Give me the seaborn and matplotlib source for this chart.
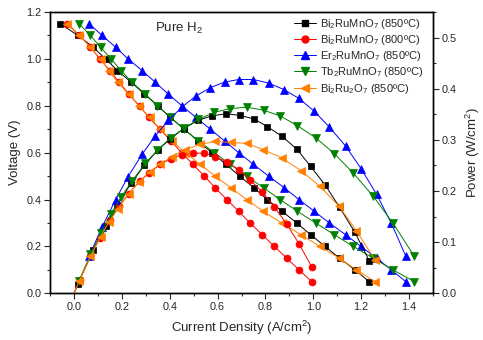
import matplotlib
matplotlib.use("Agg")
import matplotlib.pyplot as plt
from matplotlib.lines import Line2D
from matplotlib.ticker import MultipleLocator
import pandas as pd
import seaborn as sns

sns.set_style("ticks")
plt.rcParams["font.family"] = ["Liberation Sans", "DejaVu Sans"]
plt.rcParams["mathtext.fontset"] = "custom"
plt.rcParams["mathtext.rm"] = "Liberation Sans"
plt.rcParams["mathtext.default"] = "regular"

# Cell voltage levels (V) shared by every sample
voltage = [1.15, 1.10, 1.05, 1.00, 0.95, 0.90, 0.85, 0.80, 0.75, 0.70, 0.65, 0.60,
           0.55, 0.50, 0.45, 0.40, 0.35, 0.30, 0.25, 0.20, 0.15, 0.10, 0.05]

labels = ["Bi$_2$RuMnO$_7$ (850ºC)", "Bi$_2$RuMnO$_7$ (800ºC)", "Er$_2$RuMnO$_7$ (850ºC)",
          "Tb$_2$RuMnO$_7$ (850ºC)", "Bi$_2$Ru$_2$O$_7$ (850ºC)"]

# Current density (A/cm2) per sample
current_bi850 = [-0.058, 0.017, 0.08, 0.132, 0.182, 0.24, 0.294, 0.35, 0.403, 0.461, 0.518, 0.576,
                 0.635, 0.692, 0.752, 0.808, 0.869, 0.931, 0.989, 1.049, 1.11, 1.174, 1.233]
current_bi800 = [-0.028, 0.024, 0.069, 0.108, 0.15, 0.19, 0.229, 0.274, 0.313, 0.36, 0.405, 0.45,
                 0.497, 0.545, 0.59, 0.639, 0.688, 0.736, 0.787, 0.837, 0.889, 0.94, 0.993]
current_er850 = [0.0625, 0.118, 0.174, 0.226, 0.285, 0.34, 0.394, 0.451, 0.51, 0.57, 0.629, 0.688,
                 0.75, 0.813, 0.879, 0.94, 1.004, 1.067, 1.135, 1.199, 1.264, 1.326, 1.386]
current_tb850 = [0.021, 0.069, 0.111, 0.155, 0.197, 0.243, 0.298, 0.349, 0.404, 0.46, 0.52, 0.587,
                 0.653, 0.722, 0.792, 0.861, 0.933, 1.01, 1.088, 1.167, 1.25, 1.333, 1.421]
current_bru850 = [-0.03, 0.022, 0.069, 0.111, 0.146, 0.183, 0.228, 0.271, 0.317, 0.361, 0.41, 0.465,
                  0.528, 0.59, 0.656, 0.722, 0.79, 0.868, 0.948, 1.028, 1.108, 1.18, 1.257]

# Power density (W/cm2) per sample
power_bi850 = [-0.067, 0.019, 0.084, 0.132, 0.173, 0.216, 0.25, 0.28, 0.302, 0.323, 0.338, 0.347,
               0.351, 0.348, 0.341, 0.326, 0.307, 0.282, 0.248, 0.212, 0.168, 0.119, 0.064]
power_bi800 = [-0.032, 0.026, 0.072, 0.108, 0.143, 0.171, 0.195, 0.219, 0.235, 0.252, 0.263, 0.271,
               0.274, 0.274, 0.267, 0.257, 0.242, 0.222, 0.198, 0.169, 0.135, 0.097, 0.052]
power_er850 = [0.072, 0.13, 0.183, 0.228, 0.272, 0.308, 0.338, 0.364, 0.386, 0.402, 0.413, 0.418,
               0.418, 0.411, 0.398, 0.381, 0.356, 0.325, 0.288, 0.244, 0.194, 0.137, 0.073]
power_tb850 = [0.024, 0.076, 0.117, 0.155, 0.188, 0.22, 0.254, 0.28, 0.304, 0.323, 0.34, 0.354,
               0.361, 0.364, 0.358, 0.347, 0.328, 0.304, 0.273, 0.235, 0.19, 0.137, 0.073]
power_bru850 = [-0.035, 0.024, 0.072, 0.111, 0.139, 0.165, 0.194, 0.217, 0.238, 0.253, 0.267, 0.281,
                0.291, 0.297, 0.295, 0.293, 0.281, 0.265, 0.24, 0.209, 0.17, 0.122, 0.066]

currents = [current_bi850, current_bi800, current_er850, current_tb850, current_bru850]
powers = [power_bi850, power_bi800, power_er850, power_tb850, power_bru850]
colors = ["#000000", "#FF0000", "#0000FF", "#008000", "#FF8000"]
markers = ["s", "o", "^", "v", "<"]
msizes = [4.5, 5, 5.5, 5.5, 5.5]

fig = plt.figure(figsize=(4.83, 3.40), dpi=100)
ax = fig.add_axes([0.1035, 0.1373, 0.793, 0.8274])
ax2 = ax.twinx()

for lab, cur, pw, col, mk, ms in zip(labels, currents, powers, colors, markers, msizes):
    df = pd.DataFrame({"current": cur, "voltage": voltage, "power": pw})
    style = dict(color=col, marker=mk, markersize=ms, markeredgecolor=col,
                 markeredgewidth=0.5, linewidth=0.7, sort=False, estimator=None)
    sns.lineplot(data=df, x="current", y="voltage", ax=ax, **style)
    sns.lineplot(data=df, x="current", y="power", ax=ax2, **style)

ax.set_xlim(-0.1, 1.5)
ax.set_ylim(0.0, 1.2)
ax2.set_ylim(0.0, 0.55)

ax.xaxis.set_major_locator(MultipleLocator(0.2))
ax.xaxis.set_minor_locator(MultipleLocator(0.1))
ax.yaxis.set_major_locator(MultipleLocator(0.2))
ax.yaxis.set_minor_locator(MultipleLocator(0.1))
ax2.yaxis.set_major_locator(MultipleLocator(0.1))
ax2.yaxis.set_minor_locator(MultipleLocator(0.05))

for a in (ax, ax2):
    a.tick_params(which="major", direction="out", length=4, width=0.8, labelsize=7.8, pad=2)
    a.tick_params(which="minor", direction="out", length=2.5, width=0.8)
    for sp in a.spines.values():
        sp.set_linewidth(1.0)
        sp.set_color("black")
ax.tick_params(axis="x", which="both", top=False)

ax.set_xlabel("Current Density (A/cm$^2$)", fontsize=9.5, labelpad=5)
ax.set_ylabel("Voltage (V)", fontsize=9.5, labelpad=4)
ax2.set_ylabel("Power (W/cm$^2$)", fontsize=9.5, labelpad=5)

ax.text(0.44, 1.13, "Pure H$_2$", fontsize=9.5, ha="center", va="center")

handles = [Line2D([], [], color=c, marker=m, markersize=s, markeredgecolor=c, linewidth=0.7)
           for c, m, s in zip(colors, markers, msizes)]
ax.legend(handles, labels, loc="upper right", bbox_to_anchor=(0.99, 1.005), frameon=False,
          fontsize=8.0, handlelength=2.0, handletextpad=0.3, labelspacing=0.2, borderaxespad=0.15)

fig.savefig("out.png", dpi=100)
